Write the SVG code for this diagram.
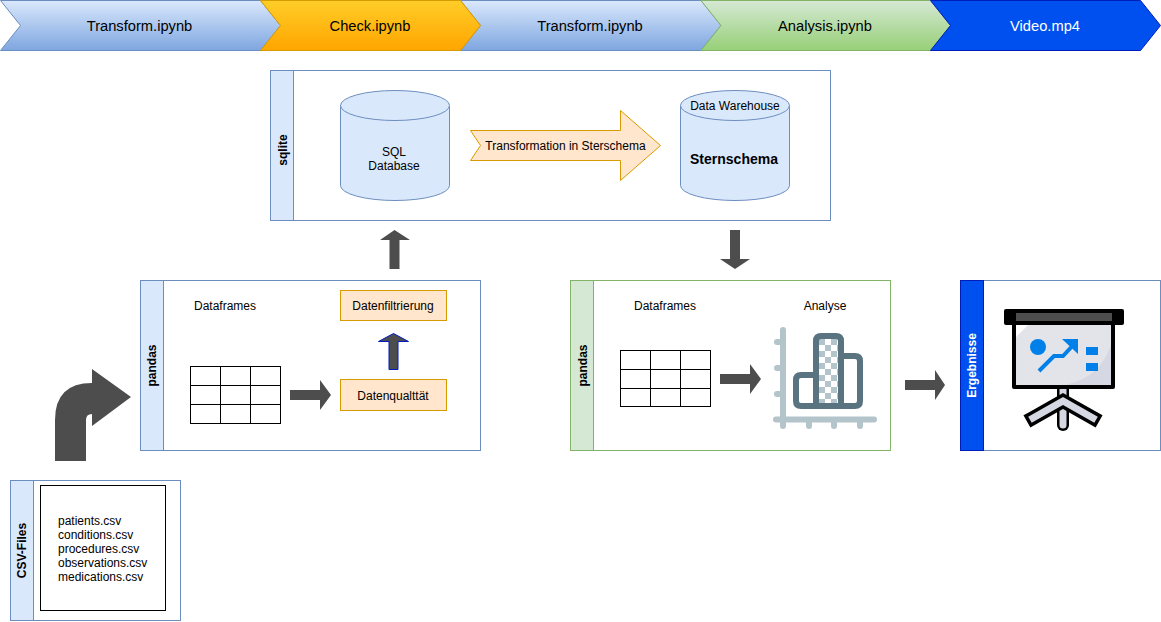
<svg xmlns="http://www.w3.org/2000/svg" width="1161" height="622" viewBox="0 0 1161 622">
<style>
text{font-family:"Liberation Sans",Arial,sans-serif;font-size:12px;fill:#000;text-anchor:middle}
.top{font-size:14.7px}
.b{font-weight:bold}
.box{fill:#fff;stroke:#6c8ebf}
.hb{fill:#dae8fc;stroke:#6c8ebf}
.g{fill:#fff;stroke:#82b366}
.hg{fill:#d5e8d4;stroke:#82b366}
.o{fill:#ffe6cc;stroke:#d79b00}
.cyl{fill:#dae8fc;stroke:#6c8ebf}
.a{fill:#4d4d4d}
.t{fill:#fff;stroke:#000}
.l{stroke:#000;fill:none}
</style>
<defs>
<linearGradient id="gb" x1="0" y1="0" x2="0" y2="1"><stop offset="0" stop-color="#dae8fc"/><stop offset="1" stop-color="#7ea6e0"/></linearGradient>
<linearGradient id="go" x1="0" y1="0" x2="0" y2="1"><stop offset="0" stop-color="#ffcd28"/><stop offset="1" stop-color="#ffa500"/></linearGradient>
<linearGradient id="gg" x1="0" y1="0" x2="0" y2="1"><stop offset="0" stop-color="#d5e8d4"/><stop offset="1" stop-color="#97d077"/></linearGradient>
<pattern id="chk" width="12" height="12" patternUnits="userSpaceOnUse" x="819" y="339"><rect width="12" height="12" fill="#fff"/><rect width="6" height="6" fill="#b4c4cb"/><rect x="6" y="6" width="6" height="6" fill="#b4c4cb"/></pattern>
</defs>

<g id="step-transform-1"><path d="M0.5 0.5H260.5L280.5 25.5L260.5 50.5H0.5L20.5 25.5Z" fill="url(#gb)" stroke="#6c8ebf"/><text class="top" x="139.500" y="31">Transform.ipynb</text></g>
<g id="step-transform-2"><path d="M460.5 0.5H701L721 25.5L701 50.5H460.5L480.5 25.5Z" fill="url(#gb)" stroke="#6c8ebf"/><text class="top" x="590" y="31">Transform.ipynb</text></g>
<g id="step-check"><path d="M260.5 0.5H460.5L480.5 25.5L460.5 50.5H260.5L280.5 25.5Z" fill="url(#go)" stroke="#d79b00"/><text class="top" x="370" y="31">Check.ipynb</text></g>
<g id="step-analysis"><path d="M701 0.5H930.5L950.5 25.5L930.5 50.5H701L721 25.5Z" fill="url(#gg)" stroke="#82b366"/><text class="top" x="825" y="31">Analysis.ipynb</text></g>
<g id="step-video"><path d="M930.5 0.5H1140.5L1160.5 25.5L1140.5 50.5H930.5L950.5 25.5Z" fill="#0050ef" stroke="#001dbc"/><text class="top" x="1045" y="31" style="fill:#fff">Video.mp4</text></g>

<g id="sqlite">
<rect class="box" x="270.5" y="70.5" width="560" height="150"/>
<rect class="hb" x="270.5" y="70.5" width="23" height="150"/>
<text class="b" transform="translate(287,150) rotate(-90)">sqlite</text>
</g>
<g id="sql-database">
<path class="cyl" d="M340.5 105.5A54.500 15 0 0 1 449.500 105.5V185.5A54.500 15 0 0 1 340.5 185.5Z"/>
<path class="cyl" d="M340.5 105.5A54.500 15 0 0 0 449.500 105.5" fill="none"/>
<text x="394" y="156">SQL</text><text x="394" y="170">Database</text>
</g>
<g id="transformation">
<path d="M470.5 130.5H620.5V110.5L660.5 145.5L620.5 180.5V160.5H470.5L480.5 145.5Z" fill="#ffe6cc" stroke="#d79b00"/>
<text x="565.5" y="150">Transformation in Sterschema</text>
</g>
<g id="data-warehouse">
<path class="cyl" d="M680.5 105.5A54.500 15 0 0 1 789.500 105.5V185.5A54.500 15 0 0 1 680.5 185.5Z"/>
<path class="cyl" d="M680.5 105.5A54.500 15 0 0 0 789.500 105.5" fill="none"/>
<text x="735" y="110">Data Warehouse</text>
<text class="b" x="734" y="164" style="font-size:14px">Sternschema</text>
</g>

<g id="pandas-left">
<rect class="box" x="140.5" y="280.5" width="340" height="170"/>
<rect class="hb" x="140.5" y="280.5" width="23" height="170"/>
<text class="b" transform="translate(156,365.5) rotate(-90)">pandas</text>
<text x="225" y="310">Dataframes</text>
<g id="table-left"><rect class="t" x="190.5" y="366.5" width="90" height="57"/><path class="l" d="M220.5 366.5V423.5M250.5 366.5V423.5M190.5 385.5H280.5M190.5 404.5H280.5"/></g>
</g>
<g id="datenfiltrierung"><rect class="o" x="340.5" y="290.5" width="106" height="30"/><text x="393" y="310">Datenfiltrierung</text></g>
<g id="datenqualitaet"><rect class="o" x="340.5" y="379.5" width="106" height="31"/><text x="393" y="400">Datenqualttät</text></g>

<g id="pandas-right">
<rect class="g" x="570.5" y="280.5" width="320" height="170"/>
<rect class="hg" x="570.5" y="280.5" width="23" height="170"/>
<text class="b" transform="translate(587,365.5) rotate(-90)">pandas</text>
<text x="665" y="310">Dataframes</text>
<text x="825" y="310">Analyse</text>
<g id="table-right"><rect class="t" x="620.5" y="350.5" width="90" height="56"/><path class="l" d="M650.5 350.5V406.5M680.5 350.5V406.5M620.5 369.5H710.5M620.5 388.5H710.5"/></g>
<g id="chart-icon">
<path d="M783 330V425M777 342H783M777 368H783M777 394H783M776 419.500H874M783 420V426M809 420V426M834 420V426M860 420V426" stroke="#b4c4cb" stroke-width="6" stroke-linecap="round" fill="none"/>
<rect x="819" y="339" width="22" height="67" fill="url(#chk)"/>
<path d="M816 406V341Q816 336 821 336H836Q841 336 841 341V406M841 356H855Q860 356 860 361V401Q860 406 855 406H801Q796 406 796 401V380Q796 375 801 375H816" fill="none" stroke="#5a7380" stroke-width="6" stroke-linejoin="round"/>
</g>
</g>

<g id="ergebnisse">
<rect class="box" x="960.500" y="280.5" width="200" height="170"/>
<rect x="960.500" y="280.5" width="23" height="170" fill="#0050ef" stroke="#001dbc"/>
<text class="b" transform="translate(976,365.5) rotate(-90)" style="fill:#fff">Ergebnisse</text>
<g id="presentation-icon">
<path d="M1063 388V425" stroke="#000" stroke-width="12" stroke-linecap="round" fill="none"/>
<path d="M1063 388V425" stroke="#d5d7e2" stroke-width="7" stroke-linecap="round" fill="none"/>
<path d="M1033 418L1063 401L1093 418" stroke="#000" stroke-width="14" stroke-linecap="square" fill="none"/>
<path d="M1033 418L1063 401L1093 418" stroke="#d5d7e2" stroke-width="7" stroke-linecap="square" fill="none"/>
<rect x="1014" y="322" width="99" height="65" fill="#e3e4ea" stroke="#000" stroke-width="4" stroke-linejoin="round"/>
<path d="M1016 324H1029L1016 337Z" fill="#fff"/>
<path d="M1111 345V385H1065Q1100 378 1111 345Z" fill="#d5d7e2"/>
<rect x="1004" y="309" width="120" height="16" rx="2" fill="#000"/>
<rect x="1016" y="313" width="96" height="8" fill="#4d4d4d"/>
<circle cx="1038" cy="347" r="8" fill="#0080e8"/>
<path d="M1039 371L1054 356H1063L1076 342" stroke="#0080e8" stroke-width="4" fill="none"/>
<path d="M1062 339H1078V354Z" fill="#0080e8"/>
<rect x="1086" y="347" width="12" height="8" fill="#0080e8"/>
<rect x="1086" y="363" width="12" height="8" fill="#0080e8"/>
</g>
</g>

<g id="csv-files">
<rect class="box" x="10.500" y="480.5" width="170" height="140"/>
<rect class="hb" x="10.500" y="480.5" width="23" height="140"/>
<text class="b" transform="translate(26,550.500) rotate(-90)">CSV-Files</text>
<rect class="t" x="40.500" y="485.5" width="125" height="125"/>
<text x="58" y="525" style="text-anchor:start">patients.csv</text>
<text x="58" y="539" style="text-anchor:start">conditions.csv</text>
<text x="58" y="553" style="text-anchor:start">procedures.csv</text>
<text x="58" y="567" style="text-anchor:start">observations.csv</text>
<text x="58" y="581" style="text-anchor:start">medications.csv</text>
</g>

<g id="connectors">
<path class="a" d="M55 461V420Q55 383 92 383V369L131 397L92 426V414Q86 414 86 420V461Z"/>
<path class="a" d="M290 390H320V380L331 395L320 410V400H290Z"/>
<path class="a" d="M720 374H750V364L761 379L750 394V384H720Z"/>
<path class="a" d="M905 380H935V370L945 385L935 400V390H905Z"/>
<path class="a" d="M389.500 269V240H380L394.500 230L410 240H399.500V269Z"/>
<path class="a" d="M730 230V259H720L735 269L750 259H740V230Z"/>
<path class="a" d="M389 369.500V341.500H378.500L393.500 333.500L408.500 341.500H398V369.500Z" stroke="#001dbc"/>
</g>
</svg>
